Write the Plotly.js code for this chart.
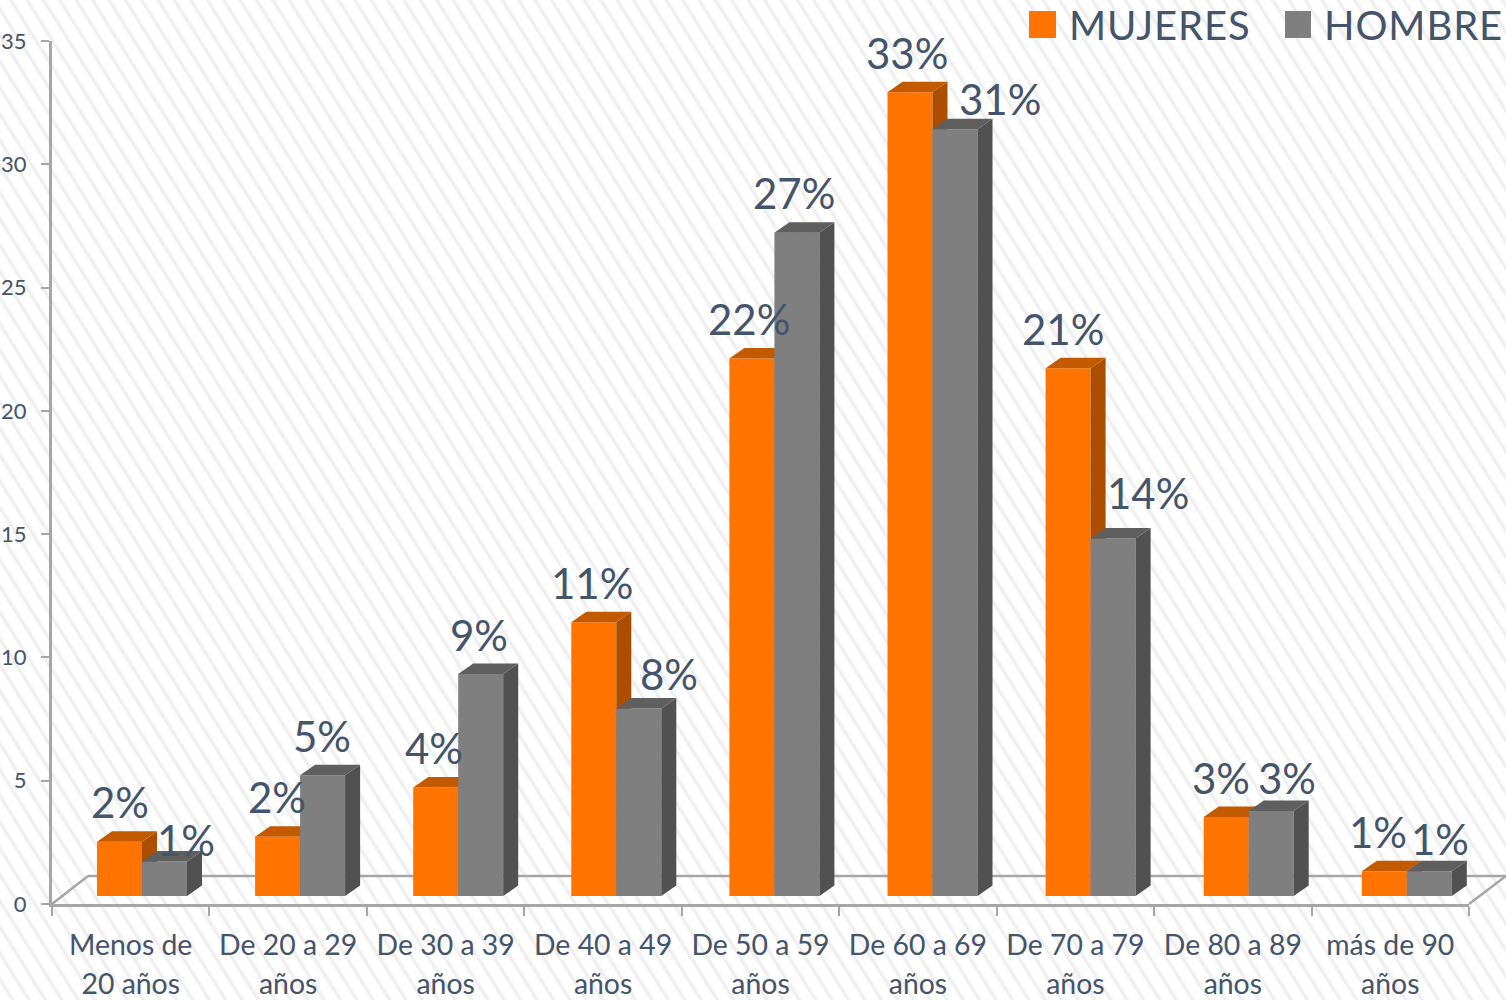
<!DOCTYPE html>
<html>
<head>
<meta charset="utf-8">
<script src="https://cdn.plot.ly/plotly-3.0.1.min.js"></script>
<style>
html,body{margin:0;padding:0;width:1506px;height:1000px;overflow:hidden;
background:#fff repeating-linear-gradient(58deg,#ffffff 0px,#ffffff 8px,#ececec 10.5px,#ffffff 13.9px);}
#chart{width:1506px;height:1000px;}
</style>
</head>
<body>
<div id="chart"></div>
<script>
// ---------- data ----------
var categories = ["Menos de|20 años","De 20 a 29|años","De 30 a 39|años","De 40 a 49|años","De 50 a 59|años","De 60 a 69|años","De 70 a 79|años","De 80 a 89|años","más de 90|años"];
var mujeres = [2.2,2.4,4.4,11.1,21.8,32.6,21.4,3.2,1.0];
var hombre  = [1.4,4.9,9.0,7.6,26.9,31.1,14.5,3.45,1.0];
var mujeresLabels = ["2%","2%","4%","11%","22%","33%","21%","3%","1%"];
var hombreLabels  = ["1%","5%","9%","8%","27%","31%","14%","3%","1%"];
var yTicks = [0,5,10,15,20,25,30,35];
// hand-placed label nudges (px), as in the original chart
var hombreLabelDx = [21,-1,-2,30,-3,45,35,16,11];
var hombreLabelDy = [-18,0,0,-5,0,-9,6,-7,-7];
var mujeresLabelDx = [0,-1,-2,-2,-3,-3,-5,-5,-6];

// ---------- styling constants ----------
var W=1506,H=1000,L=52,R=37,T=41,B=96;
var plotW=W-L-R, plotH=H-T-B;
var yMax=35, pxPerY=plotH/yMax;
var base=8/pxPerY;                // bars stand on the floor, in front of the zero line
var groupStep=158.1;              // px per category for the bars
var barW=45/groupStep;
var depthX=15/groupStep, depthY=10.5/pxPerY;
var x0=-(119.5-L)/groupStep;
var xRange=[x0,x0+plotW/groupStep];
var textColor="#44546A", axisColor="#A6A6A6";
var font="Lato, 'Open Sans', sans-serif";
var px=function(v){return (v-L)/plotW;};
var py=function(v){return 1-(v-T)/plotH;};

function wrapLabel(c){
  return c.split("|").map(function(s){return '<span style="font-size:28.4px">'+s+'</span>';}).join("<br>");
}
var positions=categories.map(function(_,i){return i;});

function barTrace(name,values,pos,color,xa,ya){
  return {type:"bar",name:name,x:pos,y:values,base:values.map(function(){return base;}),
    width:barW,marker:{color:color,line:{width:0}},xaxis:xa,yaxis:ya,hoverinfo:"skip",showlegend:false};
}
function faceTrace(values,pos,color,xa,ya,kind){
  var xs=[],ys=[];
  values.forEach(function(v,i){
    var t=base+v, xl=pos[i]-barW/2, xr=pos[i]+barW/2;
    if(kind==="top"){
      xs.push(xl,xr,xr+depthX,xl+depthX,xl,null);
      ys.push(t,t,t+depthY,t+depthY,t,null);
    }else{
      xs.push(xr,xr+depthX,xr+depthX,xr,xr,null);
      ys.push(base,base+depthY,t+depthY,t,base,null);
    }
  });
  return {type:"scatter",mode:"lines",x:xs,y:ys,fill:"toself",fillcolor:color,line:{width:0,color:color},
    xaxis:xa,yaxis:ya,hoverinfo:"skip",showlegend:false,connectgaps:false};
}
var posM=positions;
var posH=positions.map(function(p){return p+barW;});

var traces=[
  {type:"scatter",mode:"none",x:categories.map(wrapLabel),y:categories.map(function(){return 0;}),
   xaxis:"x",yaxis:"y",hoverinfo:"skip",showlegend:false},
  barTrace("MUJERES",mujeres,posM,"#FF7400","x2","y2"),
  faceTrace(mujeres,posM,"#AB4E00","x2","y2","side"),
  faceTrace(mujeres,posM,"#C45A00","x2","y2","top"),
  barTrace("HOMBRE",hombre,posH,"#7F7F7F","x3","y3"),
  faceTrace(hombre,posH,"#515151","x3","y3","side"),
  faceTrace(hombre,posH,"#5F5F5F","x3","y3","top")
];

var annotations=[];
var labelFont={family:font,size:42,color:textColor};
mujeres.forEach(function(v,i){
  annotations.push({xref:"x2",yref:"y2",x:posM[i],y:base+v,text:mujeresLabels[i],showarrow:false,
    xanchor:"center",yanchor:"middle",xshift:mujeresLabelDx[i],yshift:39.5,font:labelFont});
});
hombre.forEach(function(v,i){
  annotations.push({xref:"x3",yref:"y3",x:posH[i],y:base+v,text:hombreLabels[i],showarrow:false,
    xanchor:"center",yanchor:"middle",xshift:hombreLabelDx[i],yshift:39.5+hombreLabelDy[i],font:labelFont});
});
// legend
var legendFont={family:font,size:40,color:textColor};
function legendText(s){return '<span style="letter-spacing:0.9px">'+s+'</span>';}
annotations.push({xref:"paper",yref:"paper",x:px(1067),y:py(25),text:legendText("MUJERES"),showarrow:false,xanchor:"left",yanchor:"middle",font:legendFont});
annotations.push({xref:"paper",yref:"paper",x:px(1322),y:py(25),text:legendText("HOMBRE"),showarrow:false,xanchor:"left",yanchor:"middle",font:legendFont});

var floorLine={color:axisColor,width:2.5};
var shapes=[
  {type:"line",xref:"paper",yref:"paper",x0:px(52),y0:py(904),x1:px(88),y1:py(876),line:floorLine,layer:"below"},
  {type:"line",xref:"paper",yref:"paper",x0:px(88),y0:py(876),x1:px(1506),y1:py(876),line:floorLine,layer:"below"},
  {type:"line",xref:"paper",yref:"paper",x0:px(1469),y0:py(904),x1:px(1506),y1:py(876),line:floorLine,layer:"below"},
  {type:"rect",xref:"paper",yref:"paper",x0:px(1029),x1:px(1056),y0:py(38),y1:py(11),fillcolor:"#FF7400",line:{width:0}},
  {type:"rect",xref:"paper",yref:"paper",x0:px(1285),x1:px(1311),y0:py(38),y1:py(11),fillcolor:"#7F7F7F",line:{width:0}}
];

var hiddenX={range:xRange,overlaying:"x",visible:false,fixedrange:true};
var hiddenY={range:[0,yMax],overlaying:"y",visible:false,fixedrange:true};
var layout={
  width:W,height:H,margin:{l:L,r:R,t:T,b:B,pad:0},
  paper_bgcolor:"rgba(0,0,0,0)",plot_bgcolor:"rgba(0,0,0,0)",
  barmode:"overlay",showlegend:false,
  font:{family:font,color:textColor},
  xaxis:{type:"category",tickson:"boundaries",dtick:1,tickangle:0,range:[-0.5,8.5],automargin:false,
    showgrid:false,zeroline:false,showline:true,linecolor:axisColor,linewidth:3,
    ticks:"outside",ticklen:9,tickwidth:2,tickcolor:axisColor,ticklabelstandoff:12,
    tickfont:{family:font,size:30,color:textColor},fixedrange:true},
  yaxis:{range:[0,yMax],tickmode:"array",tickvals:yTicks,ticktext:yTicks.map(String),automargin:false,
    showgrid:false,zeroline:false,showline:true,linecolor:axisColor,linewidth:3,
    ticks:"outside",ticklen:8,tickwidth:2,tickcolor:axisColor,ticklabelstandoff:10,
    tickfont:{family:font,size:22,color:textColor},fixedrange:true},
  xaxis2:hiddenX,xaxis3:hiddenX,
  yaxis2:hiddenY,yaxis3:hiddenY,
  shapes:shapes,annotations:annotations
};
Plotly.newPlot("chart",traces,layout,{displayModeBar:false,staticPlot:true,responsive:false});
</script>
</body>
</html>
